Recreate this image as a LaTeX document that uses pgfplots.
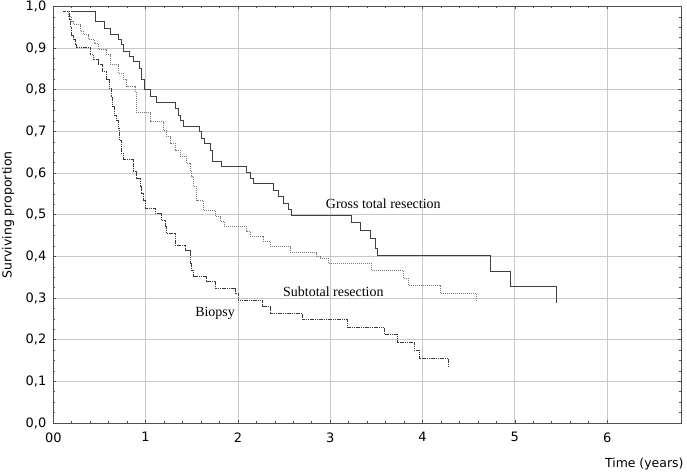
\documentclass[border=0pt]{standalone}
\usepackage{pgfplots}
\pgfplotsset{compat=1.18}
\usepackage{fontspec}
\setmainfont{Liberation Serif}
\newfontfamily\dejavu{DejaVu Sans}
\definecolor{gridc}{HTML}{C8C8C8}
\definecolor{axc}{HTML}{505050}
\definecolor{gtrc}{HTML}{404040}
\definecolor{strc}{HTML}{7A7A7A}
\definecolor{bioc}{HTML}{3A3A3A}
\begin{document}
\begin{tikzpicture}
\begin{axis}[
  scale only axis,
  width=627.7bp, height=416.5bp,
  xmin=0, xmax=6.8, ymin=0, ymax=1,
  xtick={0,1,2,3,4,5,6},
  xticklabels={00,1,2,3,4,5,6},
  ytick={0,0.1,0.2,0.3,0.4,0.5,0.6,0.7,0.8,0.9,1},
  yticklabels={{0,0},{0,1},{0,2},{0,3},{0,4},{0,5},{0,6},{0,7},{0,8},{0,9},{1,0}},
  minor x tick num=4,
  minor y tick num=3,
  tick align=inside,
  major tick length=3bp,
  minor tick length=2bp,
  tick style={axc, line width=0.6bp},
  axis line style={axc, line width=0.9bp},
  grid=major,
  major grid style={gridc, line width=0.8bp},
  tick label style={font=\dejavu\fontsize{13}{13}\selectfont, text=black},
  yticklabel style={xshift=-3.5bp},
  xticklabel style={yshift=-6bp},
]
\addplot[const plot, gtrc, line width=0.9bp] coordinates {
(0.192,0.989) (0.452,0.964) (0.549,0.948) (0.614,0.934) (0.705,0.921)
(0.741,0.908) (0.759,0.893) (0.824,0.880) (0.867,0.867) (0.932,0.852)
(0.958,0.824) (0.983,0.800) (1.048,0.783) (1.120,0.770) (1.319,0.756)
(1.355,0.739) (1.380,0.727) (1.409,0.711) (1.582,0.699) (1.608,0.684)
(1.633,0.672) (1.698,0.655) (1.727,0.629) (1.824,0.615) (2.095,0.601)
(2.131,0.588) (2.167,0.574) (2.384,0.559) (2.438,0.543) (2.492,0.527)
(2.546,0.513) (2.583,0.499) (3.233,0.481) (3.323,0.463) (3.44,0.444)
(3.49,0.420) (3.51,0.403) (4.731,0.365) (4.956,0.327) (5.454,0.327) (5.454,0.289)
};
\addplot[const plot, strc, line width=0.9bp, dash pattern=on 1bp off 1bp] coordinates {
(0.109,0.989) (0.163,0.976) (0.199,0.964) (0.217,0.956) (0.289,0.940)
(0.325,0.932) (0.379,0.920) (0.444,0.912) (0.488,0.896) (0.579,0.884)
(0.614,0.860) (0.705,0.840) (0.759,0.824) (0.795,0.809) (0.885,0.796)
(0.904,0.745) (1.055,0.723) (1.192,0.703) (1.228,0.687) (1.264,0.672)
(1.319,0.655) (1.373,0.639) (1.445,0.624) (1.481,0.607) (1.499,0.591)
(1.517,0.567) (1.553,0.535) (1.625,0.510) (1.752,0.495) (1.806,0.483)
(1.850,0.471) (2.095,0.459) (2.131,0.449) (2.275,0.435) (2.348,0.423)
(2.564,0.409) (2.853,0.399) (2.889,0.395) (2.979,0.383) (3.450,0.367)
(3.792,0.347) (3.846,0.331) (4.190,0.311) (4.580,0.311) (4.580,0.291)
};
\addplot[const plot, bioc, line width=0.8bp, dash pattern=on 1.2bp off 0.6bp] coordinates {
(0.109,0.989) (0.170,0.970) (0.181,0.950) (0.199,0.930) (0.217,0.920)
(0.235,0.910) (0.253,0.901) (0.398,0.884) (0.430,0.872) (0.488,0.860)
(0.530,0.844) (0.580,0.824) (0.605,0.804) (0.625,0.784) (0.645,0.760)
(0.665,0.739) (0.687,0.727) (0.700,0.708) (0.715,0.679) (0.735,0.648)
(0.755,0.632) (0.867,0.603) (0.904,0.588) (0.939,0.567) (0.958,0.552)
(0.975,0.535) (0.993,0.516) (1.102,0.504) (1.174,0.487) (1.210,0.471)
(1.228,0.455) (1.319,0.427) (1.427,0.414) (1.481,0.383) (1.499,0.367)
(1.517,0.351) (1.662,0.339) (1.752,0.323) (1.969,0.310) (2.004,0.294)
(2.264,0.279) (2.348,0.263) (2.702,0.249) (3.185,0.230) (3.583,0.213)
(3.727,0.193) (3.911,0.175) (3.962,0.155) (4.280,0.155) (4.280,0.137)
};
\node[font=\fontsize{14}{14}\selectfont] at (axis cs:3.575,0.526) {Gross total resection};
\node[font=\fontsize{14}{14}\selectfont] at (axis cs:3.034,0.315) {Subtotal resection};
\node[font=\fontsize{14}{14}\selectfont] at (axis cs:1.752,0.263) {Biopsy};
\end{axis}
\node[rotate=90, anchor=base, font=\dejavu\fontsize{12.5}{12.5}\selectfont] at ([xshift=-41.8bp]current axis.west) {Surviving proportion};
\node[anchor=base east, font=\dejavu\fontsize{12.5}{12.5}\selectfont] at ([xshift=6bp,yshift=-44bp]current axis.south east) {Time (years)};
\pgfresetboundingbox
\path[use as bounding box] ([xshift=-53.3bp,yshift=-49bp]current axis.south west) rectangle ([xshift=6bp,yshift=6.5bp]current axis.north east);
\end{tikzpicture}
\end{document}
